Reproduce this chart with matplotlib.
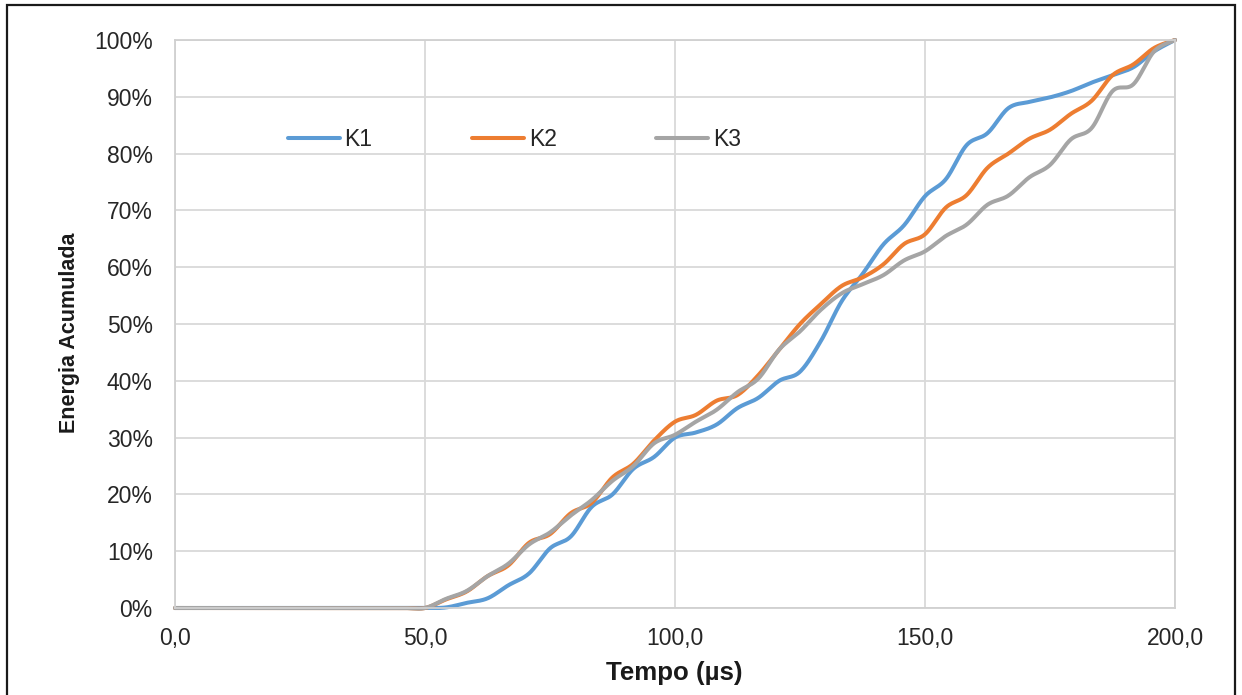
import numpy as np
import matplotlib
matplotlib.use("Agg")
import matplotlib.pyplot as plt
from matplotlib.patches import Rectangle
from matplotlib.ticker import FuncFormatter, MultipleLocator

plt.rcParams['font.family'] = ['Liberation Sans', 'DejaVu Sans']

# Time samples (µs)
tempo = [0.00, 4.17, 8.33, 12.50, 16.67, 20.83, 25.00, 29.17, 33.33, 37.50,
         41.67, 45.83, 50.00, 54.17, 58.33, 62.50, 66.67, 70.83, 75.00, 79.17,
         83.33, 87.50, 91.67, 95.83, 100.00, 104.17, 108.33, 112.50, 116.67, 120.83,
         125.00, 129.17, 133.33, 137.50, 141.67, 145.83, 150.00, 154.17, 158.33, 162.50,
         166.67, 170.83, 175.00, 179.17, 183.33, 187.50, 191.67, 195.83, 200.00]

# Cumulative energy (%) per specimen
k1 = [0, 0, 0, 0, 0, 0, 0, 0, 0, 0, 0, 0, 0,
      0.1, 0.9, 1.7, 4.0, 6.1, 10.5, 12.6, 17.8, 20.0, 24.5, 26.6, 30.0,
      30.9, 32.3, 35.2, 37.0, 40.0, 41.6, 47.0, 54.0, 58.8, 64.0, 67.4,
      72.5, 75.5, 81.5, 83.6, 88.0, 89.1, 89.9, 91.0, 92.5, 93.8, 95.2,
      98.0, 100.0]
k2 = [0, 0, 0, 0, 0, 0, 0, 0, 0, 0, 0, 0, 0,
      1.5, 2.9, 5.6, 7.5, 11.5, 13.0, 16.7, 18.5, 23.0, 25.4, 29.5, 32.8,
      34.0, 36.5, 37.5, 41.0, 45.5, 50.0, 53.5, 56.7, 58.2, 60.5, 64.1,
      65.8, 70.5, 72.7, 77.5, 80.0, 82.6, 84.2, 87.0, 89.3, 93.8, 95.7,
      98.6, 100.0]
k3 = [0, 0, 0, 0, 0, 0, 0, 0, 0, 0, 0, 0, 0,
      1.6, 3.0, 5.6, 7.8, 11.2, 13.3, 16.3, 19.0, 22.4, 25.0, 29.0, 30.5,
      32.8, 34.9, 38.0, 40.4, 45.5, 48.7, 52.5, 55.4, 57.0, 58.6, 61.2,
      62.8, 65.5, 67.5, 71.0, 72.6, 75.8, 78.0, 82.5, 84.5, 91.0, 92.2,
      98.0, 100.0]

series_names = ["K1", "K2", "K3"]
series_colors = ["#5B9BD5", "#ED7D31", "#A5A5A5"]


def smooth(x, y, n=24):
    """Catmull-Rom smoothed line through the given points."""
    x = np.asarray(x, float)
    y = np.asarray(y, float)
    px = np.concatenate([[x[0]], x, [x[-1]]])
    py = np.concatenate([[y[0]], y, [y[-1]]])
    xs, ys = [], []
    s = np.linspace(0, 1, n, endpoint=False)
    for i in range(1, len(px) - 2):
        for p, out in ((px, xs), (py, ys)):
            p0, p1, p2, p3 = p[i - 1], p[i], p[i + 1], p[i + 2]
            m1 = (p2 - p0) / 2.0
            m2 = (p3 - p1) / 2.0
            h00 = 2 * s**3 - 3 * s**2 + 1
            h10 = s**3 - 2 * s**2 + s
            h01 = -2 * s**3 + 3 * s**2
            h11 = s**3 - s**2
            out.extend(h00 * p1 + h10 * m1 + h01 * p2 + h11 * m2)
    xs.append(x[-1])
    ys.append(y[-1])
    return np.array(xs), np.array(ys)


W, H = 1242, 695
fig = plt.figure(figsize=(W / 100, H / 100), dpi=100)
ax = fig.add_axes([175 / W, 1 - 608 / H, 1000 / W, 568 / H])

for name, vals, col in zip(series_names, [k1, k2, k3], series_colors):
    sx, sy = smooth(tempo, vals)
    ax.plot(sx, sy, color=col, lw=2.9, label=name, clip_on=False,
            solid_capstyle='round')

ax.set_xlim(0, 200)
ax.set_ylim(0, 100)
ax.xaxis.set_major_locator(MultipleLocator(50))
ax.yaxis.set_major_locator(MultipleLocator(10))
ax.xaxis.set_major_formatter(FuncFormatter(lambda v, p: f"{v:.1f}".replace('.', ',')))
ax.yaxis.set_major_formatter(FuncFormatter(lambda v, p: f"{v:.0f}%"))
ax.grid(True, color="#D9D9D9", lw=1.3)
ax.set_axisbelow(True)
for sp in ax.spines.values():
    sp.set_color("#D0D0D0")
    sp.set_linewidth(1.3)
ax.tick_params(length=0, labelsize=16.5, labelcolor="#262626")
ax.tick_params(axis='y', pad=16)
ax.tick_params(axis='x', pad=14)

fig.text(674 / W, 1 - 673 / H, "Tempo (µs)", ha='center', va='center',
         fontsize=18.6, fontweight='bold', color="#1a1a1a")
fig.text(70 / W, 1 - 333 / H, "Energia Acumulada", ha='center', va='center',
         rotation=90, fontsize=15.5, fontweight='bold', color="#1a1a1a")

leg = ax.legend(loc='center left', bbox_to_anchor=(288 / W, 1 - 140 / H),
                bbox_transform=fig.transFigure, ncol=3, frameon=False,
                fontsize=16.5, handlelength=2.27, handletextpad=0.2,
                columnspacing=4.35, borderpad=0, borderaxespad=0)
for t in leg.get_texts():
    t.set_color("#262626")

fig.add_artist(Rectangle((7 / W, -0.05), (1235 - 7) / W, (H - 5) / H + 0.05,
                         transform=fig.transFigure, fill=False,
                         edgecolor="#1a1a1a", lw=1.6, clip_on=False))

fig.savefig("out.png", dpi=100)
